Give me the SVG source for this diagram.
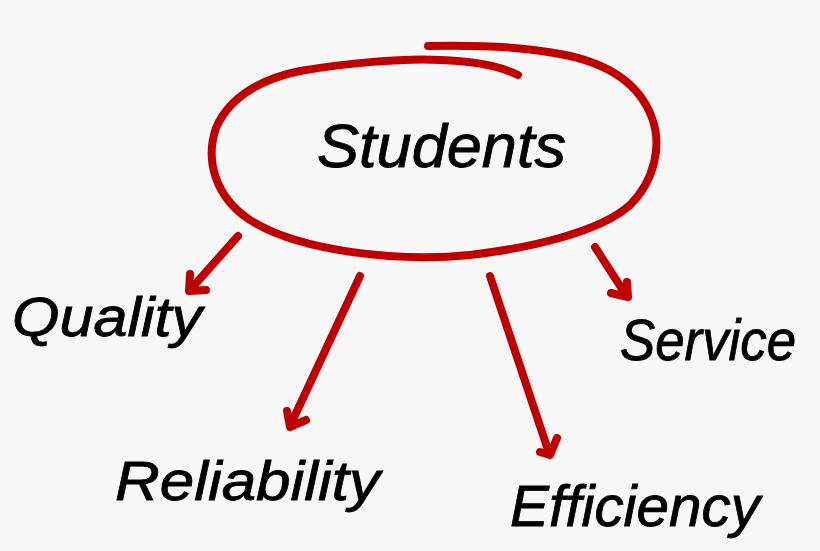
<svg xmlns="http://www.w3.org/2000/svg" width="820" height="551" viewBox="0 0 820 551">
<style>
.red{fill:none;stroke:#c00000;stroke-width:8;stroke-linecap:round;stroke-linejoin:round}
.lbl{font-family:"Liberation Sans","DejaVu Sans",sans-serif;font-style:italic;fill:#000;stroke:#000;stroke-width:0.8}
</style>
<rect width="820" height="551" fill="#f7f7f7"/>
<g id="students">
<path class="red" d="M428,46 C470,45 520,46 560,54 C610,63 640,85 652,118 C662,145 655,180 630,205 C600,232 530,248 470,255 C400,262 300,252 250,220 C215,197 205,160 216,128 C230,95 265,78 300,71 C340,64 400,58 440,60 C475,61 500,66 518,75"/>
<text class="lbl" x="317" y="167" font-size="62" textLength="249" lengthAdjust="spacingAndGlyphs">Students</text>
</g>
<g id="quality"><text class="lbl" x="12" y="336" font-size="55" textLength="190" lengthAdjust="spacingAndGlyphs">Quality</text></g>
<g id="reliability"><text class="lbl" x="115" y="500" font-size="55" textLength="265" lengthAdjust="spacingAndGlyphs">Reliability</text></g>
<g id="efficiency"><text class="lbl" x="510" y="526" font-size="58" textLength="250" lengthAdjust="spacingAndGlyphs">Efficiency</text></g>
<g id="service"><text class="lbl" x="620" y="360" font-size="58" textLength="176" lengthAdjust="spacingAndGlyphs">Service</text></g>
<g id="connectors">
<path class="red" d="M238,236 L190,290 M190,274 L189,291 L206,290"/>
<path class="red" d="M360,276 L290,426 M287,411 L290,427 L306,420"/>
<path class="red" d="M490,276 L549,453 M540,452 L550,455 L557,438"/>
<path class="red" d="M595,247 L626,295 M627,282 L628,297 L611,293"/>
</g>
</svg>
